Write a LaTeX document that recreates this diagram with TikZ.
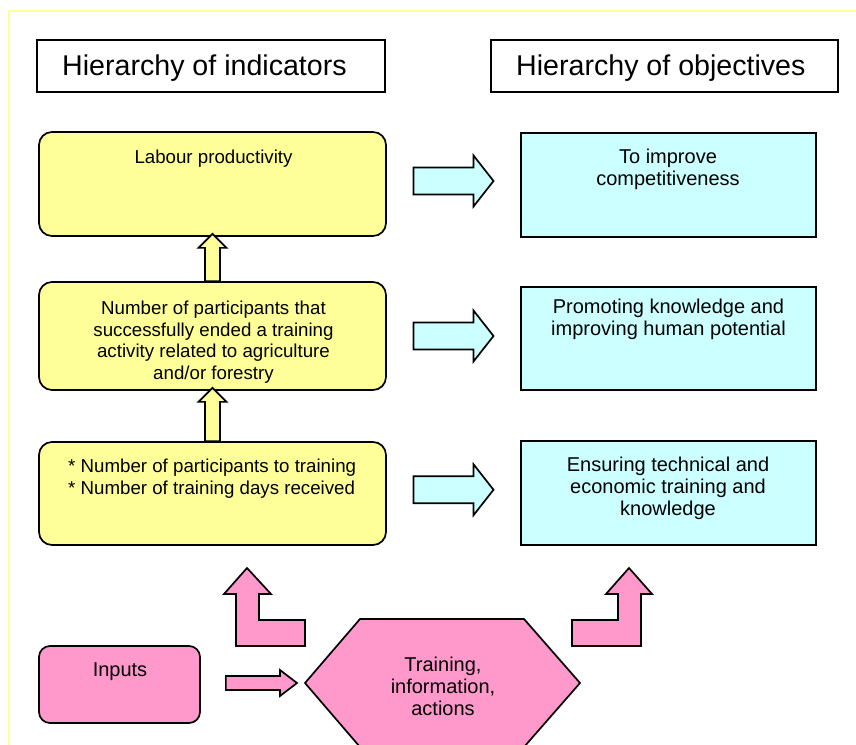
\documentclass[tikz,border=0pt]{standalone}
\usepackage{fontspec}
\setmainfont{Liberation Sans}
\usetikzlibrary{calc}
\definecolor{yfill}{HTML}{FFFF99}
\definecolor{cfill}{HTML}{CCFFFF}
\definecolor{pfill}{HTML}{FF99CC}
\definecolor{framecol}{HTML}{FFFF99}
\newcommand\upblock[2]{%
  \draw[yarrow] let \p1=#1, \p2=#2 in
    (\x1-7.5pt,\y1) -- (\x1-7.5pt,\y2-11pt) -- (\x1-14pt,\y2-11pt) -- (\x1,\y2+3pt)
    -- (\x1+14pt,\y2-11pt) -- (\x1+7.5pt,\y2-11pt) -- (\x1+7.5pt,\y1) -- cycle;}
\begin{document}
\begin{tikzpicture}[x=1pt,y=-1pt,
  blk/.style={draw=black, line width=1.7pt, line join=miter},
  ybox/.style={blk, fill=yfill, rounded corners=13pt, minimum width=347pt, inner sep=0pt},
  cbox/.style={blk, fill=cfill, minimum width=295pt, inner sep=0pt},
  pbox/.style={blk, fill=pfill, rounded corners=11pt, inner sep=0pt},
  tbox/.style={draw=black, line width=1.5pt, minimum width=348pt, minimum height=52pt, inner sep=0pt},
  body/.style={font=\fontsize{18.7}{21.7}\selectfont, align=center, inner sep=0pt, anchor=north},
  bigbody/.style={body, font=\fontsize{20}{22}\selectfont},
  titletext/.style={font=\fontsize{28.6}{34}\selectfont, inner sep=0pt, anchor=base west},
  yarrow/.style={blk, fill=yfill},
  carrow/.style={blk, fill=cfill},
  parrow/.style={blk, fill=pfill},
  rblock/.pic={\draw[carrow] (-40,-13.5) -- (20,-13.5) -- (20,-25.5) -- (40,0) -- (20,25.5) -- (20,13.5) -- (-40,13.5) -- cycle;},
]
\useasboundingbox (0,0) rectangle (856,744);
\fill[white] (0,0) rectangle (856,744);
\draw[framecol, line width=1.5pt] (9,760) -- (9,11) -- (870,11);

% titles
\node[tbox] (ttl1) at (211,66) {};
\node[titletext] (ttl1t) at (62,75) {Hierarchy of indicators};
\node[tbox, minimum width=347pt] (ttl2) at (664.5,66) {};
\node[titletext] (ttl2t) at (516,75) {Hierarchy of objectives};

% indicator boxes
\node[ybox, minimum height=104pt] (ind1) at (212.5,184) {};
\node[ybox, minimum height=108pt] (ind2) at (212.5,336) {};
\node[ybox, minimum height=103pt] (ind3) at (212.5,493.5) {};
\node[body] (ind1t) at (213.5,149.6) {Labour productivity};
\node[body] (ind2t) at (213.5,300.6) {Number of participants that\\successfully ended a training\\activity related to agriculture\\and/or forestry};
\node[body, anchor=north west, align=left] (ind3t) at (68,458.6) {* Number of participants to training\\* Number of training days received};

% objective boxes
\node[cbox, minimum height=104pt] (obj1) at (668.5,185) {};
\node[cbox, minimum height=103pt] (obj2) at (668.5,338.5) {};
\node[cbox, minimum height=104pt] (obj3) at (668.5,493) {};
\node[bigbody] (obj1t) at (668,148.7) {To improve\\competitiveness};
\node[bigbody] (obj2t) at (668.5,298.7) {Promoting knowledge and\\improving human potential};
\node[bigbody] (obj3t) at (668,456.7) {Ensuring technical and\\economic training and\\knowledge};

% up arrows
\upblock{(ind2.north)}{(ind1.south)}
\upblock{(ind3.north)}{(ind2.south)}

% right arrows
\path ([yshift=3.5pt]ind1.east) -- ([yshift=3.5pt]obj1.west) pic[pos=0.5]{rblock};
\path ([yshift=0pt]ind2.east) -- ([yshift=2.5pt]obj2.west) pic[pos=0.5]{rblock};
\path ([yshift=3.5pt]ind3.east) -- ([yshift=3.5pt]obj3.west) pic[pos=0.5]{rblock};

% inputs and actions
\node[pbox, minimum width=161pt, minimum height=77pt] (inp) at (119.5,684.5) {};
\node[bigbody] (inpt) at (120,662.7) {Inputs};
\coordinate (hexW) at (305,683);
\coordinate (hexE) at (580,683);
\draw[parrow] (hexW) -- (360,619) -- (524,619) -- (hexE) -- (524,747) -- (360,747) -- cycle;
\node[bigbody] (hext) at (443,656.7) {Training,\\information,\\actions};

% small arrow inputs -> actions
\draw[parrow] let \p1=(inp.east), \p2=(hexW) in
  (\x1+25pt,\y2+7pt) -- (\x2-25pt,\y2+7pt) -- (\x2-25pt,\y2+13pt) -- (\x2-8pt,\y2)
  -- (\x2-25pt,\y2-13pt) -- (\x2-25pt,\y2-7pt) -- (\x1+25pt,\y2-7pt) -- cycle;

% bent arrows
\draw[parrow] (247,568) -- (271,594) -- (259,594) -- (259,620) -- (305,620) -- (305,646)
  -- (236,646) -- (236,594) -- (224,594) -- cycle;
\draw[parrow] (629,568) -- (652,594) -- (641,594) -- (641,646) -- (572,646) -- (572,620)
  -- (618,620) -- (618,594) -- (606,594) -- cycle;
\end{tikzpicture}
\end{document}
